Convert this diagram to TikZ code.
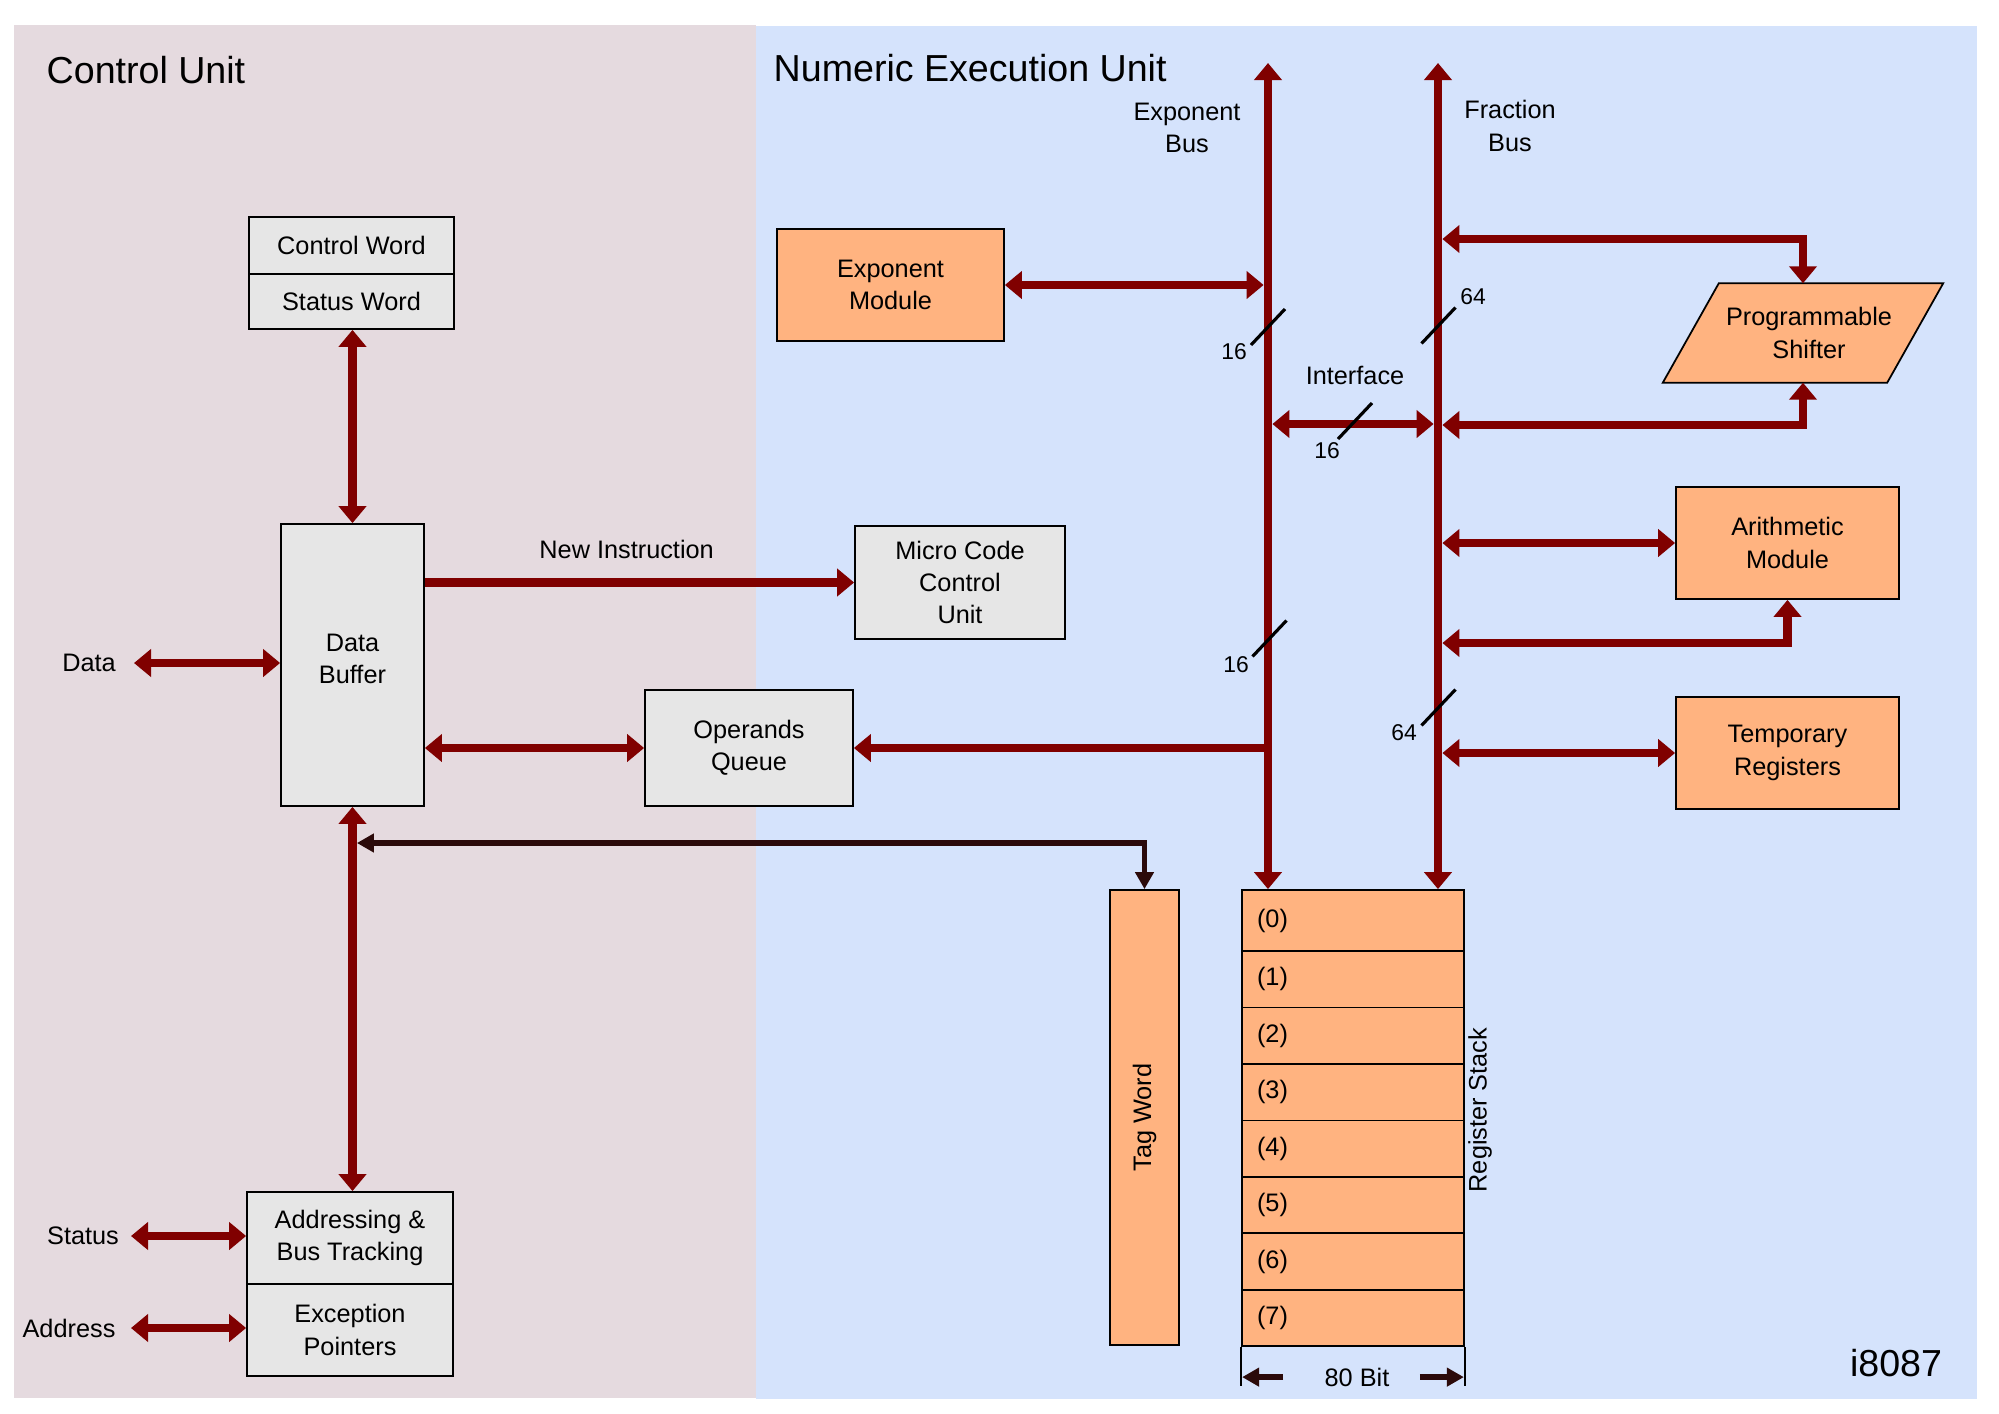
\documentclass[tikz,border=0pt]{standalone}
\usepackage{fontspec}
\setmainfont{Liberation Sans}
\usetikzlibrary{arrows.meta,calc,positioning}
\definecolor{cupink}{HTML}{E5DADF}
\definecolor{neublue}{HTML}{D5E3FC}
\definecolor{boxgrey}{HTML}{E6E6E6}
\definecolor{boxorange}{HTML}{FFB380}
\definecolor{busred}{HTML}{800000}
\definecolor{tagdark}{HTML}{2B0A0A}
\newcommand{\bodyfont}{\fontsize{7.2}{9.2}\selectfont}
\newcommand{\titlefont}{\fontsize{10.7}{13}\selectfont}
\newcommand{\widthfont}{\fontsize{6.5}{8}\selectfont}

\begin{document}
\begin{tikzpicture}[x=1cm,y=-1cm]

\tikzset{greybox/.style={draw=black,line width=0.5pt,fill=boxgrey,align=center,inner sep=0pt,font=\bodyfont},
orangebox/.style={greybox,fill=boxorange},
regrow/.style={orangebox,minimum width=2.22cm,text width=1.92cm,align=left,inner xsep=0.15cm},
redline/.style={draw=busred,line width=2.5pt,>={Triangle[length=0.17cm,width=0.27cm]}},
tagline/.style={draw=tagdark,line width=1.6pt,>={Triangle[length=0.17cm,width=0.18cm]}},
slash/.style={draw=black,line width=0.9pt},
plain/.style={font=\bodyfont,align=center,inner sep=1pt}}

% Page and panels
\fill[white] (0,0) rectangle (19.99,14.14);
\useasboundingbox (0,0) rectangle (19.99,14.14);
\fill[cupink] (0.14,0.25) rectangle (7.56,13.98);
\fill[neublue] (7.56,0.26) rectangle (19.77,13.99);
\node[anchor=west,inner sep=0pt,font=\titlefont] (cutitle) at (0.46,0.70) {Control Unit};
\node[anchor=west,inner sep=0pt,font=\titlefont] (neutitle) at (7.73,0.68) {Numeric Execution Unit};
\node[inner sep=0pt,font=\titlefont] (chipname) at (18.96,13.63) {i8087};

% Control unit boxes
\node[greybox,minimum width=2.05cm,minimum height=0.57cm] (cw) at (3.515,2.455) {Control Word};
\node[greybox,minimum width=2.05cm,minimum height=0.55cm] (sw) at (3.515,3.015) {Status Word};
\node[greybox,minimum width=1.43cm,minimum height=2.82cm] (buf) at (3.525,6.65) {};
\node[plain] (buflbl) at (3.525,6.59) {Data\\Buffer};
\node[greybox,minimum width=2.10cm,minimum height=1.13cm] (mcu) at (9.60,5.825) {Micro Code\\Control\\Unit};
\node[greybox,minimum width=2.08cm,minimum height=1.16cm] (opq) at (7.49,7.48) {Operands\\Queue};
\node[greybox,minimum width=2.06cm,minimum height=0.92cm] (abt) at (3.50,12.38) {Addressing \&\\Bus Tracking};
\node[greybox,minimum width=2.06cm,minimum height=0.92cm] (exc) at (3.50,13.30) {Exception\\Pointers};

% Outside signals
\node[plain] (datalbl) at (0.89,6.63) {Data};
\node[plain] (statlbl) at (0.83,12.36) {Status};
\node[plain] (addrlbl) at (0.69,13.28) {Address};
\coordinate (datain) at (1.34,6.63);
\coordinate (statin) at (1.31,12.36);
\coordinate (addrin) at (1.31,13.28);

% Numeric unit boxes
\node[orangebox,minimum width=2.27cm,minimum height=1.12cm] (expm) at (8.905,2.85) {Exponent\\Module};
\node[plain,inner sep=0pt,minimum width=2.23cm,minimum height=0.98cm] (shift) at (18.03,3.33) {};
\draw[fill=boxorange,line width=0.5pt] ($(shift.north west)+(0.28,0)$) -- ($(shift.north east)+(0.28,0)$)
  -- ($(shift.south east)+(-0.28,0)$) -- ($(shift.south west)+(-0.28,0)$) -- cycle;
\node[plain] (shiftlbl) at ($(shift)+(0.06,0)$) {Programmable\\Shifter};
\node[orangebox,minimum width=2.23cm,minimum height=1.12cm] (arith) at (17.875,5.43) {Arithmetic\\Module};
\node[orangebox,minimum width=2.23cm,minimum height=1.12cm] (temp) at (17.875,7.53) {Temporary\\Registers};
\node[orangebox,minimum width=0.69cm,minimum height=4.55cm] (tag) at (11.445,11.175) {};
\node[plain,rotate=90] (taglbl) at (tag) {Tag Word};

% Register stack
\node[regrow,minimum height=0.61cm] (r0) at (13.53,9.205) {(0)};
\foreach \i in {1,...,7}
  \node[regrow,minimum height=0.5646cm] (r\i) at (13.53,9.51+0.5646*\i-0.2823) {(\i)};
\node[plain,rotate=90] (rslbl) at (14.80,11.10) {Register Stack};

% Buses
\coordinate (ebtop) at (12.68,0.63);
\coordinate (fbtop) at (14.38,0.63);
\coordinate (ifl) at (12.68,4.24);
\coordinate (fbsh) at (14.38,2.39);
\coordinate (fbsl) at (14.38,4.25);
\coordinate (fbal) at (14.38,6.43);
\coordinate (tagbend) at (11.445,8.43);
\draw[redline,<->] (ebtop) -- (ebtop |- r0.north);
\draw[redline,<->] (fbtop) -- (fbtop |- r0.north);
\node[plain] (eblbl) at (11.87,1.28) {Exponent\\Bus};
\node[plain] (fblbl) at (15.10,1.26) {Fraction\\Bus};
\node[plain] (iflbl) at (13.55,3.75) {Interface};

% Edges
\draw[redline,<->] (buf.north |- sw.south) -- (buf.north);
\draw[redline,<->] (buf.south) -- (buf.south |- abt.north);
\draw[redline,<->] (datain) -- (datain -| buf.west);
\draw[redline,<->] (statin) -- (statin -| abt.west);
\draw[redline,<->] (addrin) -- (addrin -| exc.west);
\draw[redline,->] (buf.east |- mcu.west) -- (mcu.west) node[plain,pos=0.47,above=0.16cm] (nilbl) {New Instruction};
\draw[redline,<->] (buf.east |- opq.west) -- (opq.west);
\draw[redline,->] (opq.east -| ebtop) -- (opq.east);
\draw[redline,<->,shorten >=1.25pt] (expm.east) -- (expm.east -| ebtop);
\draw[redline,<->,shorten <=1.25pt,shorten >=1.25pt] (ifl) -- (ifl -| fbtop);
\draw[redline,<->,shorten <=1.25pt] (fbsh) -| (shift.north);
\draw[redline,<->,shorten <=1.25pt] (fbsl) -| (shift.south);
\draw[redline,<->,shorten <=1.25pt] (arith.west -| fbtop) -- (arith.west);
\draw[redline,<->,shorten <=1.25pt] (fbal) -| (arith.south);
\draw[redline,<->,shorten <=1.25pt] (temp.west -| fbtop) -- (temp.west);
\draw[tagline,<->] ([xshift=1.25pt]buf.south |- tagbend) -- (tagbend) -- (tag.north);

% Bus widths
\foreach \cx/\cy/\lx/\ly/\num [count=\k] in {12.68/3.27/12.34/3.52/16, 13.55/4.21/13.27/4.51/16,
  12.695/6.385/12.36/6.65/16, 14.385/3.255/14.73/2.97/64, 14.385/7.075/14.04/7.33/64}
{ \draw[slash] (\cx+0.17,\cy-0.18) -- (\cx-0.17,\cy+0.18);
  \node[font=\widthfont,inner sep=0pt] (wd\k) at (\lx,\ly) {\num}; }

% 80 bit width
\draw[line width=0.5pt] (r7.south west) -- ++(0,0.39);
\draw[line width=0.5pt] (r7.south east) -- ++(0,0.39);
\draw[tagline,->] ($(r7.south west)+(0.42,0.30)$) -- ($(r7.south west)+(0.01,0.30)$);
\draw[tagline,->] ($(r7.south east)+(-0.45,0.30)$) -- ($(r7.south east)+(-0.01,0.30)$);
\node[plain] (bitlbl) at ($(r7.south)+(0.04,0.30)$) {80 Bit};

\end{tikzpicture}
\end{document}
